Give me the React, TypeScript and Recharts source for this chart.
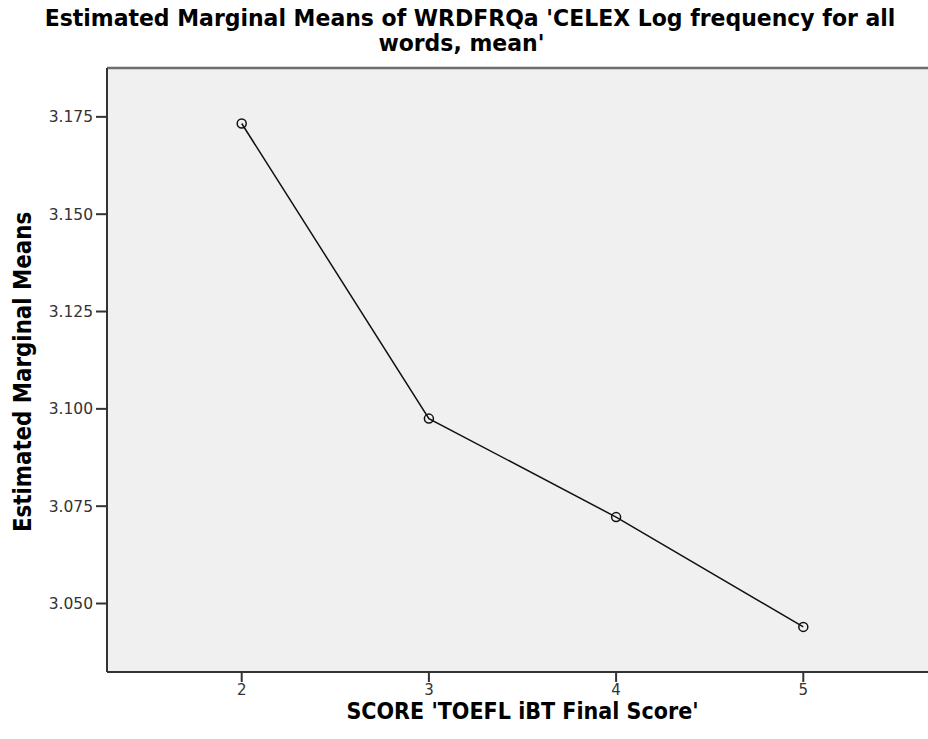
import React from 'react';
import { LineChart, Line, XAxis, YAxis, CartesianGrid, ReferenceLine } from 'recharts';

const scores = [2, 3, 4, 5];
const means = [3.1733, 3.0975, 3.0722, 3.044];
const xTicks = [2, 3, 4, 5];
const yTicks = [3.05, 3.075, 3.1, 3.125, 3.15, 3.175];
const title1 = "Estimated Marginal Means of WRDFRQa 'CELEX Log frequency for all";
const title2 = "words, mean'";
const xLabel = "SCORE 'TOEFL iBT Final Score'";
const yLabel = 'Estimated Marginal Means';

const data = scores.map((s, i) => ({ score: s, mean: means[i] }));

const Y_MIN = 3.03241;
const Y_MAX = 3.18755;
const X_MIN = 1.2804;
const X_MAX = 5.7196;

const font = "'DejaVu Sans', sans-serif";

export default function App() {
  return (
    <div
      style={{
        position: 'fixed',
        left: 0,
        top: 0,
        width: 928,
        height: 739,
        overflow: 'hidden',
        background: '#ffffff',
        fontFamily: font,
      }}
    >
      <div
        style={{
          position: 'absolute',
          left: 0,
          top: 6,
          width: 940,
          textAlign: 'center',
          fontSize: 23,
          lineHeight: '25px',
          fontWeight: 'bold',
          color: '#000',
          whiteSpace: 'nowrap',
          transform: 'scaleX(0.955)',
          transformOrigin: '470px 0px',
        }}
      >
        <div>{title1}</div>
        <div style={{ marginLeft: -18 }}>{title2}</div>
      </div>
      <LineChart
        width={960}
        height={739}
        data={data}
        margin={{ top: 68, right: 22, bottom: 0, left: 0 }}
      >
        <CartesianGrid fill="#f0f0f0" stroke="none" horizontal={false} vertical={false} />
        <XAxis
          dataKey="score"
          type="number"
          domain={[X_MIN, X_MAX]}
          ticks={xTicks}
          allowDataOverflow
          height={67}
          tickSize={10}
          tickMargin={2}
          axisLine={{ stroke: '#333', strokeWidth: 2 }}
          tickLine={{ stroke: '#333', strokeWidth: 2 }}
          tick={{ fill: '#333', fontSize: 15, fontFamily: font }}
        />
        <YAxis
          type="number"
          domain={[Y_MIN, Y_MAX]}
          ticks={yTicks}
          allowDataOverflow
          width={107}
          tickSize={11}
          tickMargin={3}
          tickFormatter={(v: number) => v.toFixed(3)}
          axisLine={{ stroke: '#333', strokeWidth: 2 }}
          tickLine={{ stroke: '#333', strokeWidth: 2 }}
          tick={{ fill: '#333', fontSize: 15.5, fontFamily: font }}
        />
        <ReferenceLine y={Y_MAX} stroke="#6e6e6e" strokeWidth={2.5} ifOverflow="visible" />
        <Line
          type="linear"
          dataKey="mean"
          stroke="#111"
          strokeWidth={1.5}
          dot={{ r: 4.5, stroke: '#111', strokeWidth: 1.5, fill: 'none' }}
          isAnimationActive={false}
        />
      </LineChart>
      <div
        style={{
          position: 'absolute',
          left: 0,
          top: 700,
          width: 1045,
          textAlign: 'center',
          fontSize: 23,
          lineHeight: '22px',
          fontWeight: 'bold',
          color: '#000',
          whiteSpace: 'nowrap',
          transform: 'scaleX(0.9)',
        }}
      >
        {xLabel}
      </div>
      <div
        style={{
          position: 'absolute',
          left: 23 - 200,
          top: 372 - 12,
          width: 400,
          textAlign: 'center',
          fontSize: 24,
          lineHeight: '24px',
          fontWeight: 'bold',
          color: '#000',
          whiteSpace: 'nowrap',
          transform: 'rotate(-90deg) scaleX(0.89)',
        }}
      >
        {yLabel}
      </div>
    </div>
  );
}
